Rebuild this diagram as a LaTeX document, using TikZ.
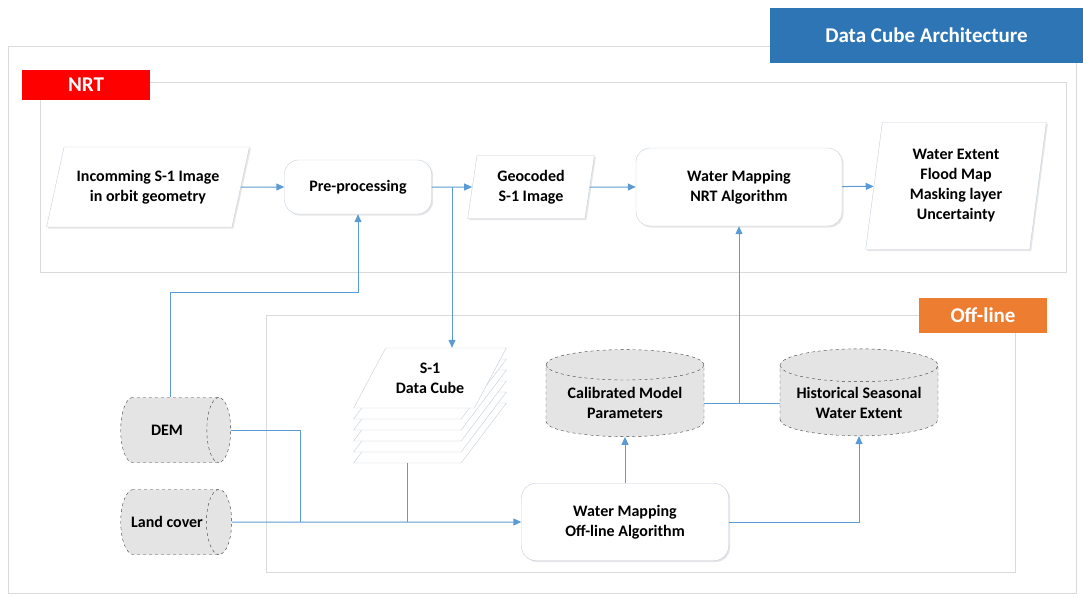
\documentclass[tikz,border=0pt]{standalone}
\usepackage{fontspec}
\setmainfont{Carlito}
\usetikzlibrary{positioning,shapes.geometric,arrows.meta,shadows}
\definecolor{flowblue}{HTML}{5B9BD5}
\definecolor{framegray}{HTML}{DADADA}
\definecolor{boxedge}{HTML}{C5CFDA}
\definecolor{cylfill}{HTML}{E4E4E4}
\definecolor{titleblue}{HTML}{2E75B6}
\definecolor{nrtred}{HTML}{FF0000}
\definecolor{offorange}{HTML}{ED7D31}
\tikzset{
  lbl/.style={font=\fontsize{16}{20}\selectfont\bfseries, align=center},
  frame/.style={draw=framegray, line width=0.8pt},
  tag/.style={lbl, text=white, font=\fontsize{21}{24}\selectfont\bfseries, inner sep=0pt},
  procbox/.style={lbl, draw=boxedge, fill=white, rounded corners=14pt,
    drop shadow={shadow xshift=1.5pt, shadow yshift=-1.5pt, opacity=0.2}},
  iobox/.style={lbl, trapezium, trapezium stretches=true, draw=boxedge, fill=white,
    drop shadow={shadow xshift=1.5pt, shadow yshift=-1.5pt, opacity=0.2}},
  sheet/.style={trapezium, trapezium stretches=true, trapezium left angle=54,
    trapezium right angle=126, minimum width=153, minimum height=60,
    draw=boxedge, fill=white},
  store/.style={lbl, cylinder, draw=black!75, dashed, fill=cylfill},
  line/.style={draw=flowblue, line width=1pt},
  flow/.style={line, -{Triangle[length=8pt,width=7pt]}}
}
\begin{document}
\begin{tikzpicture}[x=1pt,y=-1pt]
\useasboundingbox (0,0) rectangle (1083,597);
% Frames and tags
\draw[frame] (8,46) rectangle (1076,593);
\node[tag, fill=titleblue, minimum width=313, minimum height=55] (title) at (926.5,35.5) {Data Cube Architecture};
\draw[frame] (40,82) rectangle (1066,272);
\node[tag, fill=nrtred, minimum width=128, minimum height=30] (nrttag) at (86,85) {NRT};
\draw[frame] (266,315) rectangle (1015,572);
\node[tag, fill=offorange, minimum width=128, minimum height=35] (offtag) at (983,315.5) {Off-line};

% NRT chain
\node[iobox, trapezium left angle=69, trapezium right angle=111, minimum width=203, minimum height=80] (inc) at (148,187) {Incomming S-1 Image\\in orbit geometry};
\node[procbox, minimum width=147, minimum height=54] (pre) at (358,187) {Pre-processing};
\node[iobox, trapezium left angle=81, trapezium right angle=99, minimum width=127, minimum height=63] (geo) at (531,187) {Geocoded\\S-1 Image};
\node[procbox, minimum width=206, minimum height=78] (nrt) at (739,187) {Water Mapping\\NRT Algorithm};
\node[iobox, trapezium left angle=82, trapezium right angle=98, minimum width=181, minimum height=127] (out) at (956,186) {Water Extent\\Flood Map\\Masking layer\\Uncertainty};

% Data cube stack
\coordinate (cubec) at (430,378);
\foreach \k in {5,4,3,2,1}
  \node[sheet] at ([yshift={-11pt*\k}]cubec) {};
\node[sheet, lbl] (cube) at (cubec) {S-1\\Data Cube};
\coordinate (cubebot) at (407,463);

% Stores
\node[store, shape border rotate=90, aspect=0.25, minimum width=158, minimum height=87] (cal) at (625,403) {Calibrated Model\\Parameters};
\node[store, shape border rotate=90, aspect=0.25, minimum width=158, minimum height=87] (hist) at (859,403) {Historical Seasonal\\Water Extent};
\node[store, aspect=1.4, minimum width=65, minimum height=110] (dem) at (167,430) {DEM};
\node[store, aspect=1.4, minimum width=65, minimum height=110] (land) at (167,522) {Land cover};
\node[procbox, minimum width=207, minimum height=77] (off) at (625,522) {Water Mapping\\Off-line Algorithm};

% Connectors
\coordinate (j1) at (452,187);
\coordinate (k1) at (170,292);
\coordinate (jd) at (300,522);
\draw[flow] (inc) -- (pre);
\draw[flow] (pre) -- (geo);
\draw[flow] (j1) -- (j1 |- cube.north);
\draw[flow] (geo) -- (nrt);
\draw[flow] (nrt) -- (out);
\draw[flow] (k1 |- dem.north) -- (k1) -| (pre.south);
\draw[line] (dem.east) -| (jd);
\draw[flow] (land.east) -- (off.west);
\draw[line] (cubebot) -- (cubebot |- off.west);
\draw[flow] (off.north) -- (cal.south);
\draw[flow] (off.east) -| (hist.south);
\draw[line] (cal.east) -- (hist.west);
\draw[flow] (cal.east -| nrt.south) -- (nrt.south);
\end{tikzpicture}
\end{document}
